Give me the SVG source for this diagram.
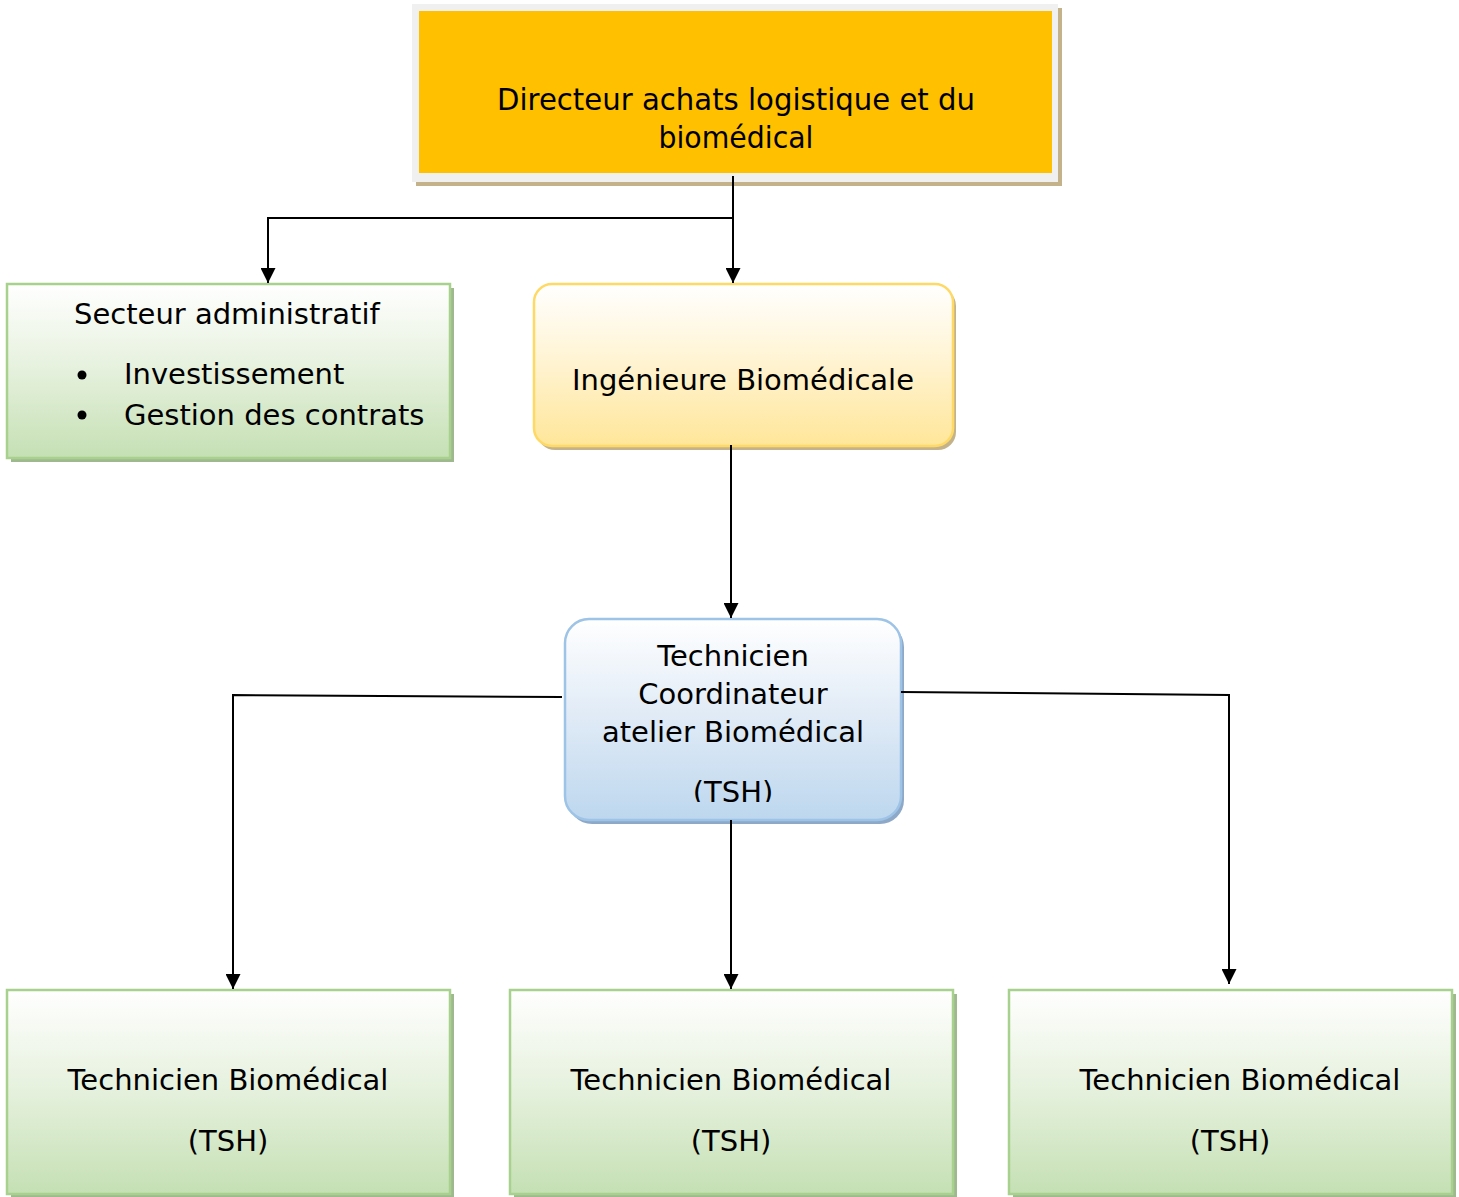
<svg xmlns="http://www.w3.org/2000/svg" width="1459" height="1197" viewBox="0 0 1459 1197">
<defs>
<linearGradient id="gGreen" x1="0" y1="0" x2="0" y2="1"><stop offset="0" stop-color="#ffffff"/><stop offset="0.45" stop-color="#e8f2e0"/><stop offset="1" stop-color="#c5e0b4"/></linearGradient>
<linearGradient id="gYellow" x1="0" y1="0" x2="0" y2="1"><stop offset="0" stop-color="#ffffff"/><stop offset="0.5" stop-color="#fff3d0"/><stop offset="1" stop-color="#ffe699"/></linearGradient>
<linearGradient id="gBlue" x1="0" y1="0" x2="0" y2="1"><stop offset="0" stop-color="#ffffff"/><stop offset="0.5" stop-color="#dfeaf6"/><stop offset="1" stop-color="#bdd7ee"/></linearGradient>
<clipPath id="tshClip"><rect x="565" y="619" width="336" height="183"/></clipPath>
<marker id="arr" viewBox="0 0 10 10" refX="10" refY="5" markerWidth="15" markerHeight="15" markerUnits="userSpaceOnUse" orient="auto"><path d="M0,0 L10,5 L0,10 Z" fill="#000"/></marker>
</defs>
<style>
text{font-family:"DejaVu Sans","Verdana",sans-serif;font-size:29px;fill:#000;}
.c{text-anchor:middle;}
.conn{fill:none;stroke:#000;stroke-width:2;}
.green{fill:url(#gGreen);stroke:#a9d18e;stroke-width:2.5;}
.gshadow{fill:#9fb98f;}
</style>
<rect width="1459" height="1197" fill="#fff"/>
<g id="directeur">
<rect x="416" y="8" width="646" height="178" fill="#c4b38a"/>
<rect x="412" y="4" width="646" height="178" fill="#f0f0f0"/>
<rect x="419" y="11" width="633" height="162" fill="#ffc000"/>
<text class="c" x="736" y="110" style="font-size:30px" textLength="478" lengthAdjust="spacingAndGlyphs">Directeur achats logistique et du</text>
<text class="c" x="736" y="148" style="font-size:30px" textLength="155" lengthAdjust="spacingAndGlyphs">biomédical</text>
</g>
<g id="secteur">
<rect class="gshadow" x="11" y="288" width="443" height="174"/>
<rect class="green" x="7" y="284" width="443" height="174"/>
<text x="74" y="324">Secteur administratif</text>
<circle cx="82" cy="375" r="4.5" fill="#000"/>
<text x="124" y="384">Investissement</text>
<circle cx="82" cy="415" r="4.5" fill="#000"/>
<text x="124" y="425">Gestion des contrats</text>
</g>
<g id="ingenieure">
<rect x="537" y="288" width="419" height="162" rx="18" fill="#c4b38a"/>
<rect x="534" y="284" width="419" height="162" rx="18" fill="url(#gYellow)" stroke="#ffd966" stroke-width="2.5"/>
<text class="c" x="743" y="390">Ingénieure Biomédicale</text>
</g>
<g id="coordinateur">
<rect x="568" y="623" width="336" height="201" rx="24" fill="#8ea9c8"/>
<rect x="565" y="619" width="336" height="201" rx="24" fill="url(#gBlue)" stroke="#9dc3e6" stroke-width="2.5"/>
<text class="c" x="733" y="666">Technicien</text>
<text class="c" x="733" y="704">Coordinateur</text>
<text class="c" x="733" y="742">atelier Biomédical</text>
<text class="c" x="733" y="802" clip-path="url(#tshClip)">(TSH)</text>
</g>
<g id="tech1">
<rect class="gshadow" x="11" y="994" width="443" height="204"/>
<rect class="green" x="7" y="990" width="443" height="204"/>
<text class="c" x="228" y="1090">Technicien Biomédical</text>
<text class="c" x="228" y="1151">(TSH)</text>
</g>
<g id="tech2">
<rect class="gshadow" x="514" y="994" width="443" height="204"/>
<rect class="green" x="510" y="990" width="443" height="204"/>
<text class="c" x="731" y="1090">Technicien Biomédical</text>
<text class="c" x="731" y="1151">(TSH)</text>
</g>
<g id="tech3">
<rect class="gshadow" x="1013" y="994" width="443" height="204"/>
<rect class="green" x="1009" y="990" width="443" height="204"/>
<text class="c" x="1240" y="1090">Technicien Biomédical</text>
<text class="c" x="1230" y="1151">(TSH)</text>
</g>
<g id="connectors">
<path class="conn" d="M733,176 L733,283" marker-end="url(#arr)"/>
<path class="conn" d="M733,218 L268,218 L268,283" marker-end="url(#arr)"/>
<path class="conn" d="M731,445 L731,618" marker-end="url(#arr)"/>
<path class="conn" d="M562,697 L233,695 L233,989" marker-end="url(#arr)"/>
<path class="conn" d="M901,692 L1229,695 L1229,984" marker-end="url(#arr)"/>
<path class="conn" d="M731,820 L731,989" marker-end="url(#arr)"/>
</g>
</svg>
